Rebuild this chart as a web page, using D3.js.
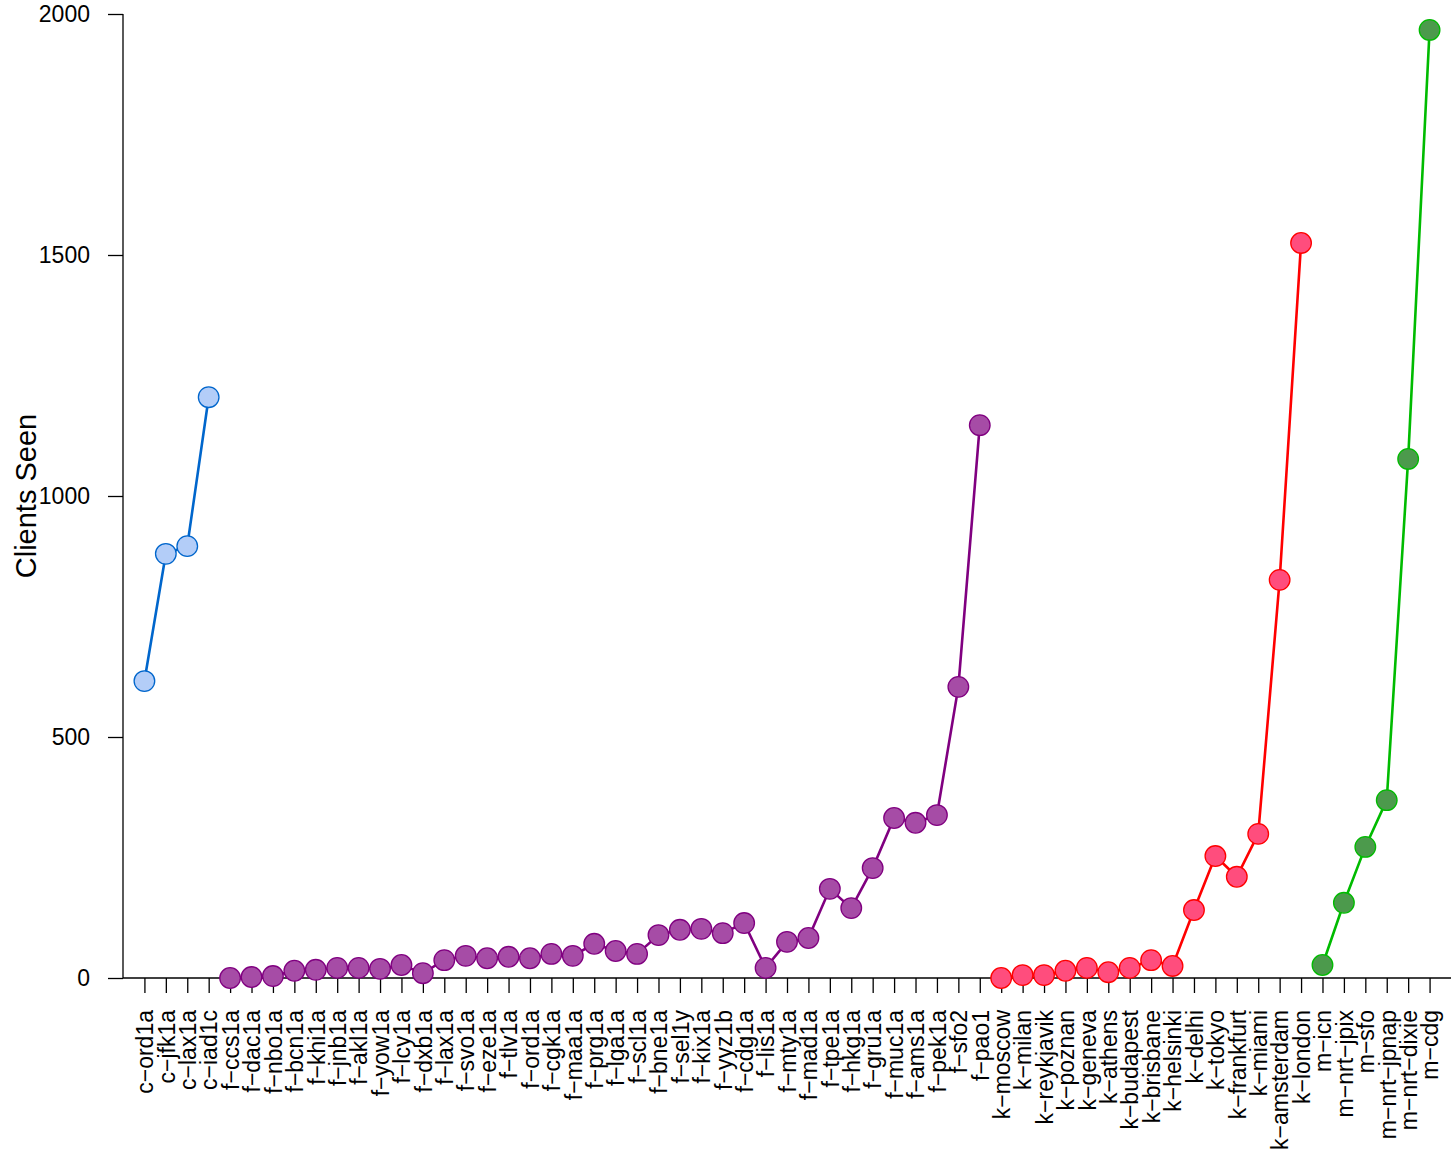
<!DOCTYPE html>
<html>
<head>
<meta charset="utf-8">
<script src="https://cdn.jsdelivr.net/npm/d3@7"></script>
<style>
  body { margin: 0; background: #fff; }
  svg text { font-family: "Liberation Sans", Arial, sans-serif; fill: #000; }
</style>
</head>
<body>
<div id="chart"></div>
<script>
// site names per group, in plotting order
const cSites = ["ord1a", "jfk1a", "lax1a", "iad1c"];
const cValues = [616, 880, 896, 1205];

const fSites = ["ccs1a", "dac1a", "nbo1a", "bcn1a", "khi1a", "jnb1a", "akl1a", "yow1a", "lcy1a", "dxb1a",
  "lax1a", "svo1a", "eze1a", "tlv1a", "ord1a", "cgk1a", "maa1a", "prg1a", "lga1a", "scl1a",
  "bne1a", "sel1y", "kix1a", "yyz1b", "cdg1a", "lis1a", "mty1a", "mad1a", "tpe1a", "hkg1a",
  "gru1a", "muc1a", "ams1a", "pek1a", "sfo2", "pao1"];
const fValues = [0, 2, 4, 15, 17, 21, 21, 19, 27, 10,
  37, 46, 41, 44, 41, 50, 46, 71, 56, 50,
  89, 100, 102, 93, 114, 21, 75, 83, 185, 145,
  228, 332, 322, 338, 604, 1147];

const kSites = ["moscow", "milan", "reykjavik", "poznan", "geneva", "athens", "budapest", "brisbane",
  "helsinki", "delhi", "tokyo", "frankfurt", "miami", "amsterdam", "london"];
const kValues = [0, 6, 6, 15, 21, 12, 21, 37, 25, 141, 253, 210, 299, 826, 1525];

const mSites = ["icn", "nrt−jpix", "sfo", "nrt−jpnap", "nrt−dixie", "cdg"];
const mValues = [27, 156, 272, 369, 1077, 1967];

const yTicks = [0, 500, 1000, 1500, 2000];

const groups = [
  { prefix: "c", sites: cSites, values: cValues, line: "#0066cc", fill: "#b3cdf8" },
  { prefix: "f", sites: fSites, values: fValues, line: "#800080", fill: "#a64ca6" },
  { prefix: "k", sites: kSites, values: kValues, line: "#ff0000", fill: "#ff4d7d" },
  { prefix: "m", sites: mSites, values: mValues, line: "#00bb00", fill: "#4c9a4c" }
];

groups.forEach(g => {
  g.points = g.sites.map((s, i) => ({ name: g.prefix + "−" + s, value: g.values[i] }));
});

const categories = groups.flatMap(g => g.points.map(p => p.name));

const width = 1451, height = 1164;
const margin = { left: 123, right: 0, top: 14, bottom: 186 };

const svg = d3.select("#chart").append("svg")
  .attr("width", width)
  .attr("height", height);

const x = d3.scalePoint()
  .domain(categories)
  .range([margin.left, width - margin.right])
  .padding(1);

const y = d3.scaleLinear()
  .domain([0, 2000])
  .range([height - margin.bottom, margin.top]);

// y axis
const yAxis = svg.append("g")
  .attr("transform", "translate(" + margin.left + ",0)")
  .call(d3.axisLeft(y).tickValues(yTicks).tickFormat(d3.format("d")).tickSize(15).tickPadding(18));
yAxis.select(".domain").attr("d", "M0," + y(2000) + "V" + y(0)).attr("stroke", "#000").attr("stroke-width", 1.3);
yAxis.selectAll(".tick line").attr("stroke", "#000").attr("stroke-width", 1.3);
yAxis.selectAll(".tick text").attr("font-size", 23);

// x axis
const xAxis = svg.append("g")
  .attr("transform", "translate(0," + y(0) + ")")
  .call(d3.axisBottom(x).tickSize(15).tickPadding(0));
xAxis.select(".domain").attr("d", "M" + margin.left + ",0H" + width).attr("stroke", "#000").attr("stroke-width", 1.3);
xAxis.selectAll(".tick line").attr("stroke", "#000").attr("stroke-width", 1.3);
xAxis.selectAll(".tick text")
  .attr("font-size", 23)
  .attr("transform", "rotate(-90)")
  .attr("text-anchor", "end")
  .attr("x", -32)
  .attr("y", 0)
  .attr("dy", "0.36em");

// y label
svg.append("text")
  .attr("transform", "translate(36," + ((y(0) + y(2000)) / 2) + ") rotate(-90)")
  .attr("text-anchor", "middle")
  .attr("font-size", 29)
  .text("Clients Seen");

const line = d3.line()
  .x(d => x(d.name))
  .y(d => y(d.value));

groups.forEach(g => {
  const gg = svg.append("g");
  gg.append("path")
    .datum(g.points)
    .attr("fill", "none")
    .attr("stroke", g.line)
    .attr("stroke-width", 2.6)
    .attr("d", line);
  gg.selectAll("circle")
    .data(g.points)
    .enter().append("circle")
    .attr("cx", d => x(d.name))
    .attr("cy", d => y(d.value))
    .attr("r", 10.3)
    .attr("fill", g.fill)
    .attr("stroke", g.line)
    .attr("stroke-width", 1.3);
});
</script>
</body>
</html>
